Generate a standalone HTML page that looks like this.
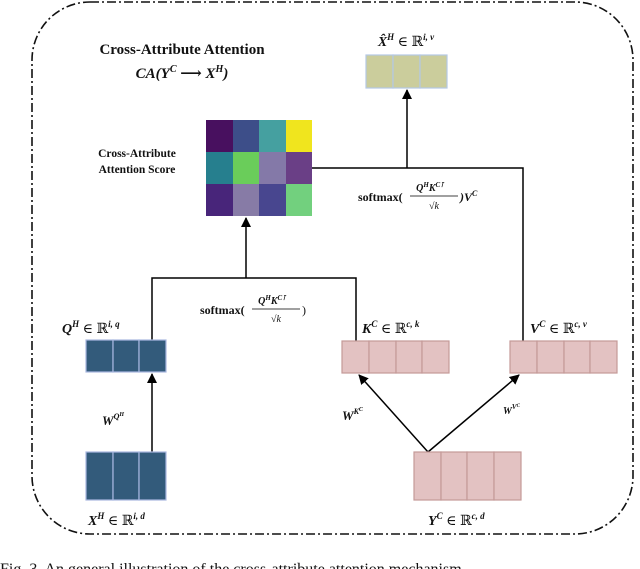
<!DOCTYPE html>
<html><head><meta charset="utf-8"><style>
html,body{margin:0;padding:0;background:#fff;}
svg{display:block;}
text{font-family:"Liberation Serif","DejaVu Serif",serif;fill:#111;}
.b{font-weight:bold;}
.m{font-weight:bold;font-style:italic;}
</style></head><body>
<svg width="640" height="569" viewBox="0 0 640 569" xmlns="http://www.w3.org/2000/svg">
<defs><marker id="ah" markerWidth="10" markerHeight="10" refX="9" refY="5" orient="auto" markerUnits="userSpaceOnUse"><path d="M0,0 L10,5 L0,10 z" fill="#000"/></marker></defs>
<rect x="32" y="2" width="601" height="532" rx="58" ry="58" fill="none" stroke="#111" stroke-width="1.6" stroke-dasharray="9,3,2,3"/>
<text x="182" y="54" class="b" font-size="15" text-anchor="middle">Cross-Attribute Attention</text>
<text x="182" y="78" class="m" font-size="15" text-anchor="middle">CA(Y<tspan font-size="10" dy="-6">C</tspan><tspan dy="6"> ⟶ X</tspan><tspan font-size="10" dy="-6">H</tspan><tspan dy="6">)</tspan></text>
<text x="137" y="157" class="b" font-size="11.5" text-anchor="middle">Cross-Attribute</text>
<text x="137" y="173" class="b" font-size="11.5" text-anchor="middle">Attention Score</text>
<g>
<rect x="206" y="120" width="27" height="32" fill="#48105f"/><rect x="233" y="120" width="26" height="32" fill="#3d4e89"/><rect x="259" y="120" width="27" height="32" fill="#45a0a0"/><rect x="286" y="120" width="26" height="32" fill="#f0e51e"/>
<rect x="206" y="152" width="27" height="32" fill="#267f8e"/><rect x="233" y="152" width="26" height="32" fill="#6acd5a"/><rect x="259" y="152" width="27" height="32" fill="#8479a8"/><rect x="286" y="152" width="26" height="32" fill="#6a3f86"/>
<rect x="206" y="184" width="27" height="32" fill="#48257a"/><rect x="233" y="184" width="26" height="32" fill="#877ba6"/><rect x="259" y="184" width="27" height="32" fill="#48468f"/><rect x="286" y="184" width="26" height="32" fill="#72d07e"/>
</g>
<text x="406" y="46" class="m" font-size="14" text-anchor="middle">X̂<tspan font-size="9" dy="-6">H</tspan><tspan dy="6" font-style="normal" font-weight="normal"> ∈ ℝ</tspan><tspan font-size="9" dy="-6">i, v</tspan></text>
<g fill="#cbcd9c" stroke="#b4c8e4" stroke-width="1.2"><rect x="366" y="55" width="27" height="33"/><rect x="393" y="55" width="27" height="33"/><rect x="420" y="55" width="27" height="33"/></g>
<g stroke="#000" stroke-width="1.5" fill="none">
<polyline points="312,168 523,168 523,341"/>
<line x1="407" y1="168" x2="407" y2="90" marker-end="url(#ah)"/>
<polyline points="152,341 152,278 356,278 356,341"/>
<line x1="246" y1="278" x2="246" y2="218" marker-end="url(#ah)"/>
<line x1="152" y1="452" x2="152" y2="374" marker-end="url(#ah)"/>
<line x1="428" y1="452" x2="359" y2="375" marker-end="url(#ah)"/>
<line x1="428" y1="452" x2="519" y2="375" marker-end="url(#ah)"/>
</g>
<g font-size="12">
<text x="358" y="201" class="b">softmax(</text>
<text x="430" y="191" class="m" font-size="10" text-anchor="middle">Q<tspan font-size="7" dy="-4">H</tspan><tspan dy="4">K</tspan><tspan font-size="7" dy="-4">C⊺</tspan></text>
<line x1="410" y1="196" x2="458" y2="196" stroke="#000" stroke-width="0.8"/>
<text x="434" y="209" font-size="10" font-style="italic" text-anchor="middle">√k</text>
<text x="460" y="201" class="m">)V<tspan font-size="8" dy="-5">C</tspan></text>
</g>
<g font-size="12">
<text x="200" y="314" class="b">softmax(</text>
<text x="272" y="304" class="m" font-size="10" text-anchor="middle">Q<tspan font-size="7" dy="-4">H</tspan><tspan dy="4">K</tspan><tspan font-size="7" dy="-4">C⊺</tspan></text>
<line x1="252" y1="309" x2="300" y2="309" stroke="#000" stroke-width="0.8"/>
<text x="276" y="322" font-size="10" font-style="italic" text-anchor="middle">√k</text>
<text x="302" y="314">)</text>
</g>
<text x="62" y="333" class="m" font-size="14">Q<tspan font-size="9" dy="-6">H</tspan><tspan dy="6" font-style="normal" font-weight="normal"> ∈ ℝ</tspan><tspan font-size="9" dy="-6">i, q</tspan></text>
<text x="362" y="333" class="m" font-size="14">K<tspan font-size="9" dy="-6">C</tspan><tspan dy="6" font-style="normal" font-weight="normal"> ∈ ℝ</tspan><tspan font-size="9" dy="-6">c, k</tspan></text>
<text x="530" y="333" class="m" font-size="14">V<tspan font-size="9" dy="-6">C</tspan><tspan dy="6" font-style="normal" font-weight="normal"> ∈ ℝ</tspan><tspan font-size="9" dy="-6">c, v</tspan></text>
<g fill="#335b7b" stroke="#a9b8e0" stroke-width="1.2"><rect x="86" y="340" width="27" height="32"/><rect x="113" y="340" width="26" height="32"/><rect x="139" y="340" width="27" height="32"/></g>
<g fill="#e3c2c2" stroke="#c49a98" stroke-width="1.2"><rect x="342" y="341" width="27" height="32"/><rect x="369" y="341" width="27" height="32"/><rect x="396" y="341" width="26" height="32"/><rect x="422" y="341" width="27" height="32"/></g>
<g fill="#e3c2c2" stroke="#c49a98" stroke-width="1.2"><rect x="510" y="341" width="27" height="32"/><rect x="537" y="341" width="27" height="32"/><rect x="564" y="341" width="26" height="32"/><rect x="590" y="341" width="27" height="32"/></g>
<text x="102" y="425" class="m" font-size="13">W<tspan font-size="8" dy="-6">Q<tspan font-size="6" dy="-3">H</tspan></tspan></text>
<text x="342" y="420" class="m" font-size="13">W<tspan font-size="8" dy="-6">K<tspan font-size="6" dy="-3">C</tspan></tspan></text>
<text x="503" y="414" class="m" font-size="10">W<tspan font-size="7" dy="-5">V<tspan font-size="5" dy="-2">C</tspan></tspan></text>
<g fill="#335b7b" stroke="#a9b8e0" stroke-width="1.2"><rect x="86" y="452" width="27" height="48"/><rect x="113" y="452" width="26" height="48"/><rect x="139" y="452" width="27" height="48"/></g>
<g fill="#e3c2c2" stroke="#c49a98" stroke-width="1.2"><rect x="414" y="452" width="27" height="48"/><rect x="441" y="452" width="26" height="48"/><rect x="467" y="452" width="27" height="48"/><rect x="494" y="452" width="27" height="48"/></g>
<text x="88" y="525" class="m" font-size="14">X<tspan font-size="9" dy="-6">H</tspan><tspan dy="6" font-style="normal" font-weight="normal"> ∈ ℝ</tspan><tspan font-size="9" dy="-6">i, d</tspan></text>
<text x="428" y="525" class="m" font-size="14">Y<tspan font-size="9" dy="-6">C</tspan><tspan dy="6" font-style="normal" font-weight="normal"> ∈ ℝ</tspan><tspan font-size="9" dy="-6">c, d</tspan></text>
<text x="0" y="574" font-size="16" fill="#333">Fig. 3.   An general illustration of the cross-attribute attention mechanism</text>
</svg>
</body></html>
